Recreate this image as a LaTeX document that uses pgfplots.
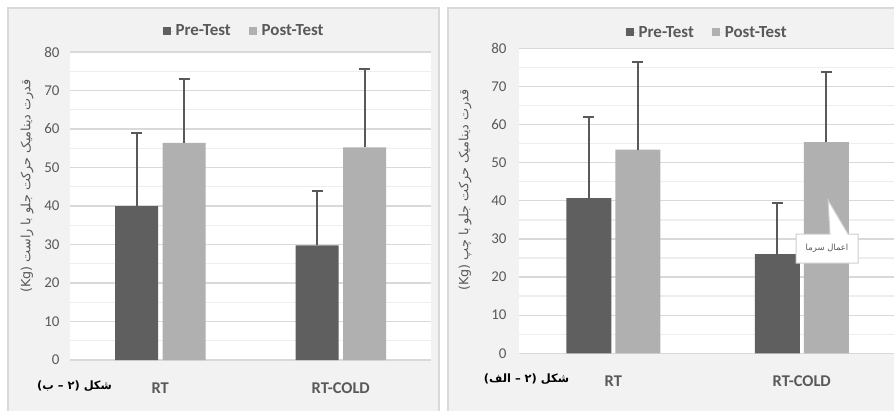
\documentclass[border=0pt]{standalone}
\usepackage{pgfplots}
\pgfplotsset{compat=1.18}
\usepackage{fontspec}
\setmainfont{Carlito}
\newfontfamily\arabicfont[Script=Arabic]{DejaVu Sans}
\TeXXeTstate=1
\definecolor{bgc}{HTML}{F2F2F2}
\definecolor{brd}{HTML}{D9D9D9}
\definecolor{pre}{HTML}{5F5F5F}
\definecolor{post}{HTML}{B0B0B0}
\definecolor{txt}{HTML}{595959}
\definecolor{grd}{HTML}{D9D9D9}
\definecolor{mgrd}{HTML}{EEEEEE}
\pgfplotsset{
 panel/.style={
   scale only axis, ybar, ymin=0, ymax=80, xmin=-0.5, xmax=1.5,
   ytick={0,10,...,80}, minor ytick={5,15,...,75},
   ymajorgrids, yminorgrids,
   major grid style={grd, line width=1.3bp},
   minor grid style={mgrd, line width=1.3bp},
   axis line style={draw=none}, tick style={draw=none},
   xtick={0,1}, xticklabels={RT, RT-COLD},
   xticklabel style={font=\fontsize{16.5}{18}\selectfont\bfseries, text=txt, yshift=-15bp},
   yticklabel style={font=\fontsize{15}{17}\selectfont, text=txt},
   /pgf/number format/assume math mode=true,
   axis background/.style={fill=white},
   legend columns=2,
   legend style={draw=none, fill=none, font=\fontsize{17}{19}\selectfont\bfseries, text=txt, anchor=center,
     /tikz/every even column/.append style={column sep=16bp}},
   legend image code/.code={\fill[##1] (0bp,-4bp) rectangle (8bp,4bp); \path (0bp,0bp) -- (11bp,0bp);},
   error bars/y dir=plus, error bars/y explicit,
   error bars/error bar style={txt, line width=2bp},
   error bars/error mark options={txt, line width=2bp, mark size=5.5bp, rotate=90},
 }
}
\begin{document}
\begin{tikzpicture}[x=1bp,y=1bp]
\useasboundingbox (0,0) rectangle (894,410);
\clip (0,0) rectangle (894,410);
\fill[white] (0,0) rectangle (894,410);
\filldraw[fill=bgc, draw=brd, line width=1.2bp] (8,-5) rectangle (439,402);
\filldraw[fill=bgc, draw=brd, line width=1.2bp] (448,-5) rectangle (905,402);

% Left panel (2-b)
\begin{axis}[panel, at={(70bp,50bp)}, anchor=south west, width=361bp, height=308bp,
  bar width=43bp,
  yticklabel style={xshift=-7bp},
  legend style={at={(0.482,1)}, yshift=21bp},
  ylabel={\arabicfont\fontsize{12.8}{14}\selectfont\beginR قدرت دینامیک حرکت جلو با راست \beginL(Kg)\endL\endR},
  ylabel style={at={(axis description cs:-0.119,0.565)}, anchor=center, text=txt},
]
\addplot[fill=pre, draw=none, bar shift=-23.75bp] coordinates {(0,40) +- (0,19) (1,29.8) +- (0,14.2)};
\addplot[fill=post, draw=none, bar shift=23.75bp] coordinates {(0,56.4) +- (0,16.6) (1,55.2) +- (0,20.4)};
\legend{Pre-Test, Post-Test}
\end{axis}

% Right panel (2-alef)
\begin{axis}[panel, at={(519bp,56.7bp)}, anchor=south west, width=377bp, height=305bp,
  bar width=45bp,
  yticklabel style={xshift=-9bp},
  legend style={at={(0.499,1)}, yshift=16bp},
  ylabel={\arabicfont\fontsize{12.8}{14}\selectfont\beginR قدرت دینامیک حرکت جلو با چپ \beginL(Kg)\endL\endR},
  ylabel style={at={(axis description cs:-0.143,0.535)}, anchor=center, text=txt},
]
\addplot[fill=pre, draw=none, bar shift=-24.5bp] coordinates {(0,40.7) +- (0,21.4) (1,26) +- (0,13.3)};
\addplot[fill=post, draw=none, bar shift=24.5bp] coordinates {(0,53.4) +- (0,23.1) (1,55.4) +- (0,18.5)};
\legend{Pre-Test, Post-Test}
\end{axis}

% callout
\filldraw[fill=white, draw=brd!80!black!60, line width=1bp]
  (796,147) -- (796,176) -- (830,176) -- (828,210) -- (848,176) -- (858,176) -- (858,147) -- cycle;
\node[text=txt] at (827,161.5) {\arabicfont\fontsize{8.5}{10}\selectfont\beginR اعمال سرما\endR};

% captions
\node[text=black] at (74.5,24) {\arabicfont\bfseries\fontsize{11.5}{13}\selectfont\beginR شکل (۲ – ب)\endR};
\node[text=black] at (526.5,31) {\arabicfont\bfseries\fontsize{11.5}{13}\selectfont\beginR شکل (۲ – الف)\endR};
\end{tikzpicture}
\end{document}
